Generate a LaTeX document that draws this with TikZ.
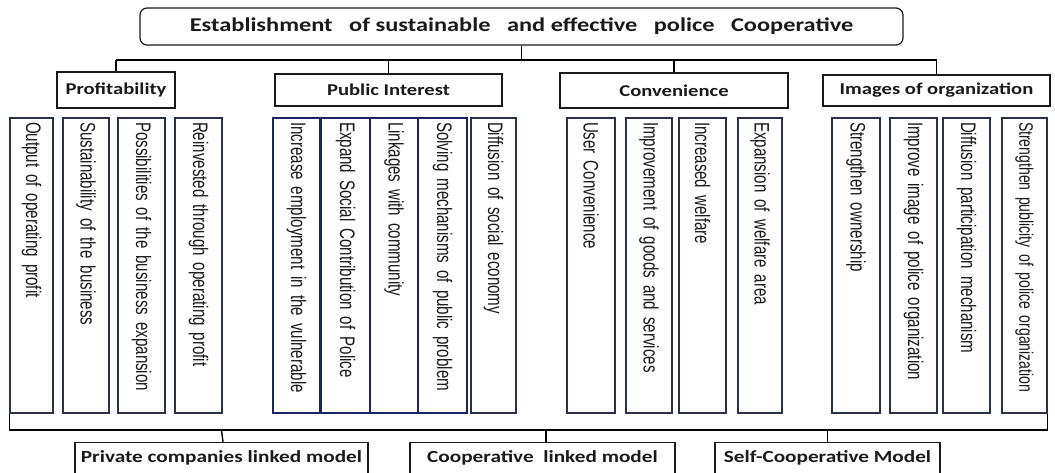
\documentclass[tikz,border=0pt]{standalone}
\usepackage{fontspec}
\setmainfont{Carlito}
\newfontfamily\hfont[FakeStretch=1.25]{Carlito}
\newfontfamily\vfont[FakeStretch=0.72]{Liberation Sans}
\definecolor{boxline}{HTML}{2B3148}
\definecolor{navy}{HTML}{1A2466}
\definecolor{ink}{HTML}{1A1A1A}
\begin{document}
\begin{tikzpicture}[x=1pt,y=-1pt,
  conn/.style={draw=black, line width=1.4pt},
  topbox/.style={draw=ink, line width=1.2pt, rounded corners=7pt, minimum width=763pt, minimum height=37pt, inner sep=0pt, text=ink, font=\hfont\bfseries\fontsize{19.5}{22}\selectfont},
  catbox/.style={draw=ink, line width=1.2pt, inner sep=0pt, text=ink, font=\hfont\bfseries\fontsize{16.5}{18}\selectfont},
  vbox/.style={draw=boxline, line width=1.1pt, rotate=-90, minimum width=295pt, inner xsep=4pt, inner ysep=0pt, text width=287pt, align=left, text=ink, font=\vfont\fontsize{21}{23}\selectfont, execute at begin node={\hyphenpenalty=10000}},
  vthick/.style={vbox, draw=navy, line width=2pt},
  modbox/.style={draw=ink, line width=1.2pt, inner xsep=0pt, inner ysep=0pt, text height=20pt, text depth=14pt, anchor=north, text=ink, font=\hfont\bfseries\fontsize{17}{20}\selectfont}
]
\useasboundingbox (0,0) rectangle (1055,472);

% top
\node[topbox] (top) at (521.5,26.5) {Establishment~~ of sustainable~~ and effective~~ police~~ Cooperative};

% categories
\node[catbox, minimum width=118pt, minimum height=36pt] (prof) at (116,90) {Profitability};
\node[catbox, minimum width=227pt, minimum height=32pt] (pub) at (388.5,90) {Public Interest};
\node[catbox, minimum width=228pt, minimum height=35pt] (conv) at (674,90.5) {Convenience};
\node[catbox, minimum width=227pt, minimum height=31pt] (img) at (936.5,90.5) {Images of organization};

\coordinate (tl) at (0,60);
\draw[conn] (top.south) -- (top.south |- tl);
\draw[conn] (prof.north |- tl) -- (img.north |- tl);
\foreach \n in {prof,pub,conv,img} \draw[conn] (\n.north |- tl) -- (\n.north);

% vertical boxes
\node[vbox, minimum height=43pt] (b1) at (31.5,265.5) {Output of operating profit};
\node[vbox, minimum height=46pt] (b2) at (86,265.5) {Sustainability of the business};
\node[vbox, minimum height=47pt] (b3) at (141.5,265.5) {Possibilities of the business expansion};
\node[vbox, minimum height=47pt] (b4) at (198.5,265.5) {Reinvested through operating profit};
\node[vthick, minimum height=47pt] (b5) at (296.5,265.5) {Increase employment in the vulnerable};
\node[vthick, minimum height=49pt] (b6) at (345.5,265.5) {Expand Social Contribution of Police};
\node[vthick, minimum height=48pt] (b7) at (394,265.5) {Linkages with community};
\node[vthick, minimum height=49pt] (b8) at (442.5,265.5) {Solving mechanisms of public problem};
\node[vbox, minimum height=45pt] (b9) at (493.5,265.5) {Diffusion of social economy};
\node[vbox, minimum height=48pt] (b10) at (591,265.5) {User Convenience};
\node[vbox, minimum height=46pt] (b11) at (649,265.5) {Improvement of goods and services};
\node[vbox, minimum height=47pt] (b12) at (702.5,265.5) {Increased welfare};
\node[vbox, minimum height=44pt] (b13) at (760,265.5) {Expansion of welfare area};
\node[vbox, minimum height=48pt] (b14) at (856,265.5) {Strengthen ownership};
\node[vbox, minimum height=47pt] (b15) at (913.5,265.5) {Improve image of police organization};
\node[vbox, minimum height=47pt] (b16) at (966.5,265.5) {Diffusion participation mechanism};
\node[vbox, minimum height=45pt, font=\vfont\fontsize{19.5}{22}\selectfont] (b17) at (1024.5,265.5) {Strengthen publicity of police organization};

% bottom bracket
\coordinate (bl) at (0,430);
\draw[conn] (b1.south east) -- (b1.south east |- bl) -- (b17.north east |- bl) -- (b17.north east);

% model boxes
\node[modbox, minimum width=293pt] (pm) at (221.5,442) {Private companies linked model};
\node[modbox, minimum width=265pt] (cm) at (542.5,442) {Cooperative~ linked model};
\node[modbox, minimum width=225pt] (sm) at (827.5,442) {Self-Cooperative Model};
\draw[conn] (pm.north |- bl) -- ([xshift=1.5pt]pm.north);
\draw[conn] ([xshift=3.5pt]cm.north |- bl) -- ([xshift=3.5pt]cm.north);
\draw[conn] (sm.north |- bl) -- (sm.north);
\end{tikzpicture}
\end{document}
